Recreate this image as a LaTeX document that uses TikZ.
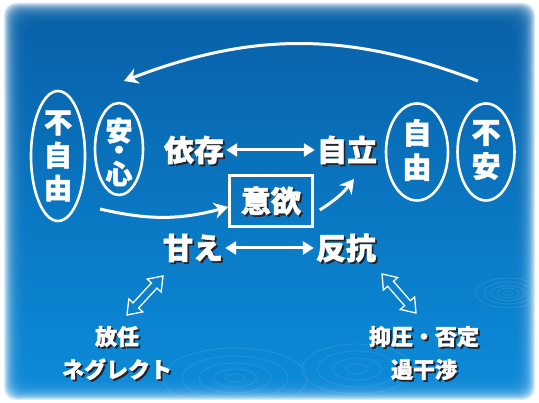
\documentclass[tikz,border=0pt]{standalone}
\usepackage{fontspec}
\newfontfamily\jpfont{Noto Sans CJK JP}[BoldFeatures={FakeBold=1.6}]
\usetikzlibrary{arrows.meta,calc,shapes.geometric}

\definecolor{bgtop}{RGB}{8,98,170}
\definecolor{bgbot}{RGB}{12,138,216}
\definecolor{shadowc}{RGB}{35,35,45}

\tikzset{
  oval/.style={draw=white,line width=2.6pt,ellipse,inner sep=0pt},
  ovaltext/.style={text=white,font=\jpfont\bfseries\fontsize{28pt}{33pt}\selectfont,align=center,inner sep=0pt},
  bigword/.style={text=white,font=\jpfont\bfseries\fontsize{30pt}{30pt}\selectfont,inner sep=2pt},
  smallword/.style={text=white,font=\jpfont\bfseries\fontsize{22pt}{33pt}\selectfont,align=center,inner sep=1pt},
  flow/.style={white,line width=3pt,-{Stealth[length=14pt,width=16pt]}},
  pair/.style={white,line width=3pt,{Triangle[length=11pt,width=13pt]}-{Triangle[length=11pt,width=13pt]}},
  ripple/.style={white,opacity=0.10,line width=0.8pt},
}

% text with a dark drop shadow
\newcommand{\shadowed}[4]{%
  \node[#1,text=shadowc] at ([shift={(1.8pt,-1.8pt)}]#3) {#4};
  \node[#1] (#2) at (#3) {#4};}

% hollow double arrow between two points
\newcommand{\hollowpair}[2]{%
  \draw[white,line width=1.3pt,line join=miter]
    (#1) -- ($(#1)!13pt!(#2)!9.5pt!90:(#2)$) -- ($(#1)!13pt!(#2)!3.8pt!90:(#2)$)
    -- ($(#2)!13pt!(#1)!3.8pt!-90:(#1)$) -- ($(#2)!13pt!(#1)!9.5pt!-90:(#1)$)
    -- (#2) -- ($(#2)!13pt!(#1)!9.5pt!90:(#1)$) -- ($(#2)!13pt!(#1)!3.8pt!90:(#1)$)
    -- ($(#1)!13pt!(#2)!3.8pt!-90:(#2)$) -- ($(#1)!13pt!(#2)!9.5pt!-90:(#2)$) -- cycle;}

\begin{document}
\begin{tikzpicture}[x=1pt,y=-1pt]
  \useasboundingbox (0,0) rectangle (539,403);
  % background with soft edge
  \fill[white] (0,0) rectangle (539,403);
  \foreach \i in {0,...,23}
    \shade[top color=bgtop,bottom color=bgbot,fill opacity=0.16,rounded corners=12pt]
      (4+\i,3+\i) rectangle (535-\i,400-\i);
  % ripples
  \foreach \r in {4,9,14,20,27}
    \draw[ripple] (508,293) ellipse [x radius=1.2*\r, y radius=0.55*\r];
  \foreach \r in {8,18,30,44,60}
    \draw[ripple] (235,378) ellipse [x radius=1.2*\r, y radius=0.5*\r];
  \foreach \r in {10,22,36,50}
    \draw[ripple] (357,369) ellipse [x radius=1.1*\r, y radius=0.5*\r];

  % ovals
  \node[oval,minimum width=54pt,minimum height=130pt] (fujiyu) at (58,156) {};
  \node[ovaltext] (fujiyu text) at (fujiyu.center) {不\\自\\由};
  \node[oval,minimum width=48pt,minimum height=92pt] (anshin) at (119,149) {};
  \node[ovaltext,font=\jpfont\bfseries\fontsize{27pt}{19pt}\selectfont] (anshin text) at (119,152) {安\\・\\心};
  \node[oval,minimum width=62pt,minimum height=97pt] (jiyu) at (417,152) {};
  \node[ovaltext,font=\jpfont\bfseries\fontsize{29pt}{34pt}\selectfont] (jiyu text) at (417,150) {自\\由};
  \node[oval,minimum width=57pt,minimum height=97pt] (fuan) at (486,152) {};
  \node[ovaltext,font=\jpfont\bfseries\fontsize{29pt}{34pt}\selectfont] (fuan text) at (486,150) {不\\安};

  % words
  \shadowed{bigword}{izon}{194,150}{依存}
  \shadowed{bigword}{jiritsu}{347,150}{自立}
  \shadowed{bigword}{amae}{193,248}{甘え}
  \shadowed{bigword}{hanko}{346,248}{反抗}
  \node[draw=white,line width=2.5pt,minimum width=83pt,minimum height=51pt] (iyoku) at (271,201) {};
  \shadowed{bigword}{iyoku text}{271,201}{意欲}
  \shadowed{smallword}{hounin}{117,353}{放任\\ネグレクト}
  \shadowed{smallword}{yokuatsu}{424,353}{抑圧・否定\\過干渉}

  % connectors
  \draw[pair] (izon) -- (jiritsu);
  \draw[pair] (amae) -- (hanko);
  \coordinate (arcstart) at (478,81);
  \coordinate (arcend) at (124,81);
  \draw[flow] (arcstart) to[bend right=21] (arcend);
  \coordinate (curlstart) at (100,209);
  \draw[flow] (curlstart) to[bend right=14] ([yshift=-6pt]iyoku.west);
  \coordinate (risestop) at (354,179);
  \draw[flow] ([shift={(6pt,-9pt)}]iyoku.east) to[bend right=10] (risestop);
  \coordinate (leftlow) at (127,315);
  \coordinate (lefthigh) at (163,276);
  \coordinate (rightlow) at (416,313);
  \coordinate (righthigh) at (382,274);
  \hollowpair{leftlow}{lefthigh}
  \hollowpair{righthigh}{rightlow}
\end{tikzpicture}
\end{document}
